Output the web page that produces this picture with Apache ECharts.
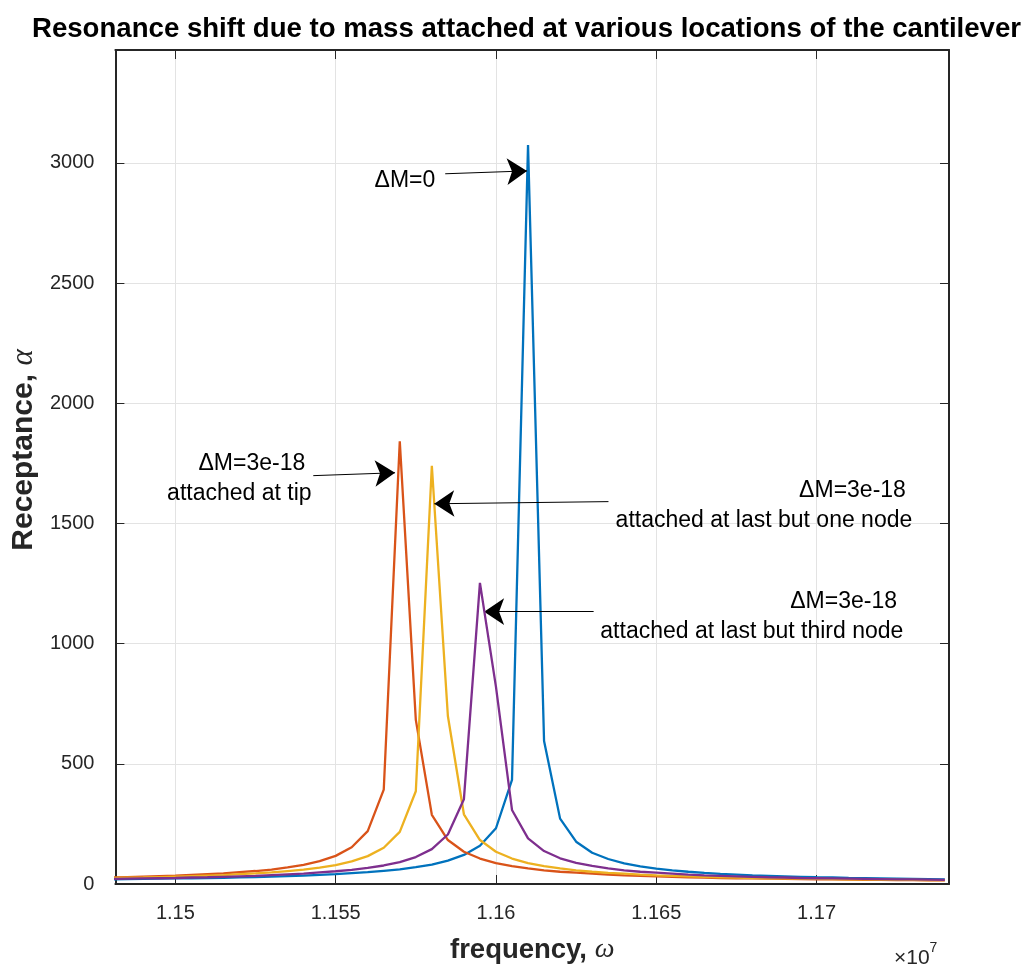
<!DOCTYPE html>
<html>
<head>
<meta charset="utf-8">
<script src="https://cdn.jsdelivr.net/npm/echarts@6/dist/echarts.min.js"></script>
<style>
html,body{margin:0;padding:0;background:#fff;}
#chart{width:1027px;height:969px;}
</style>
</head>
<body>
<div id="chart"></div>
<script>
// frequency (x 1e7)
const freq = [1.1480,1.1485,1.1490,1.1495,1.1500,1.1505,1.1510,1.1515,1.1520,1.1525,
  1.1530,1.1535,1.1540,1.1545,1.1550,1.1555,1.1560,1.1565,1.1570,1.1575,
  1.1580,1.1585,1.1590,1.1595,1.1600,1.1605,1.1610,1.1615,1.1620,1.1625,
  1.1630,1.1635,1.1640,1.1645,1.1650,1.1655,1.1660,1.1665,1.1670,1.1675,
  1.1680,1.1685,1.1690,1.1695,1.1700,1.1705,1.1710,1.1715,1.1720,1.1725,
  1.1730,1.1735,1.1740];

// receptance, no added mass
const alphaNoMass = [19,20,21,22,23,24,25,26,28,29,
  31,33,35,38,41,45,49,55,61,70,
  81,97,121,159,232,433,3075,595,272,176,
  130,104,86,73,64,57,51,46,42,39,
  36,34,32,30,28,27,25,24,23,22,
  21,20,19];
// mass attached at tip
const alphaTip = [27,29,31,33,35,38,41,44,49,54,
  60,69,80,95,117,153,220,393,1842,683,
  288,183,134,106,87,74,65,57,51,47,
  43,39,36,34,32,30,28,27,25,24,
  23,22,21,20,19,19,18,17,17,16,
  16,15,15];
// mass attached at last but one node
const alphaLastButOne = [25,26,27,29,31,33,35,37,41,44,
  48,54,60,68,79,94,116,151,217,386,
  1740,699,290,183,134,106,87,74,65,57,
  51,46,43,39,36,34,32,30,28,27,
  25,24,23,22,21,20,19,19,18,17,
  17,16,16];
// mass attached at last but third node
const alphaLastButThird = [21,22,23,24,25,27,28,30,32,34,
  37,40,43,48,53,59,67,77,91,112,
  145,206,353,1253,820,308,190,137,107,88,
  75,65,57,51,47,43,39,36,34,32,
  30,28,27,25,24,23,22,21,20,19,
  19,18,17];

const seriesNames = ['\u0394M=0','\u0394M=3e-18 tip','\u0394M=3e-18 last but one node','\u0394M=3e-18 last but third node'];
const xTickLabels = [1.15,1.155,1.16,1.165,1.17];
const yTickLabels = [0,500,1000,1500,2000,2500,3000];

// annotations: arrow tail, arrow tip, text anchor (right edge, middle), text
const annoText = ['\u0394M=0', '\u0394M=3e-18 \nattached at tip', '\u0394M=3e-18 \nattached at last but one node', '\u0394M=3e-18 \nattached at last but third node'];
const annoTail = [[1.158417,2955],[1.154302,1699],[1.163509,1591],[1.163046,1133]];
const annoTip  = [[1.160969,2967],[1.156852,1711],[1.158077,1582],[1.159630,1133]];
const annoTextAt = [[1.158108,2925],[1.154250,1686],[1.172985,1573],[1.172707,1113]];

const FONT = "'Liberation Sans', Arial, Helvetica, sans-serif";
const SERIF = "'Liberation Serif', 'DejaVu Serif', serif";
const AX = '#262626';
const colors = ['#0072BD','#D95319','#EDB120','#7E2F8E'];
const allSeries = [alphaNoMass, alphaTip, alphaLastButOne, alphaLastButThird];

const chart = echarts.init(document.getElementById('chart'), null, {renderer:'canvas'});

function xFmt(v){
  for (const t of xTickLabels) if (Math.abs(v - t) < 1e-7) return String(t);
  return '';
}
function yFmt(v){
  for (const t of yTickLabels) if (Math.abs(v - t) < 1e-6) return String(t);
  return '';
}

const series = allSeries.map((vals, i) => ({
  name: seriesNames[i],
  type: 'line',
  xAxisIndex: 0, yAxisIndex: 0,
  data: vals.map((v, k) => [freq[k], v]),
  showSymbol: false,
  symbol: 'none',
  smooth: false,
  clip: true,
  lineStyle: {color: colors[i], width: 2.3},
  itemStyle: {color: colors[i]},
  z: 2 + i
}));

series.push({
  name: 'annotations',
  type: 'line',
  xAxisIndex: 0, yAxisIndex: 0,
  data: [],
  z: 10,
  markLine: {
    silent: true,
    animation: false,
    symbol: ['none', 'arrow'],
    symbolSize: 20,
    lineStyle: {color: '#000', width: 1, type: 'solid'},
    label: {show: false},
    emphasis: {disabled: true},
    data: annoTail.map((t, i) => [{coord: t}, {coord: annoTip[i]}])
  },
  markPoint: {
    silent: true,
    animation: false,
    symbol: 'circle',
    symbolSize: 0,
    itemStyle: {color: 'rgba(0,0,0,0)'},
    label: {
      show: true,
      position: 'left',
      distance: 0,
      color: '#000',
      fontSize: 23,
      lineHeight: 30,
      fontFamily: FONT
    },
    data: annoTextAt.map((p, i) => ({coord: p, value: 0, label: {formatter: annoText[i]}}))
  }
});

const option = {
  animation: false,
  backgroundColor: '#fff',
  title: [{
    text: 'Resonance shift due to mass attached at various locations of the cantilever',
    left: 32,
    top: 15,
    padding: 0,
    textStyle: {fontSize: 27.6, fontWeight: 'bold', color: '#000', fontFamily: FONT}
  }, {
    text: '{a|\u00d710}{s|7}',
    left: 894,
    top: 941,
    padding: 0,
    textStyle: {
      fontWeight: 'normal',
      rich: {
        a: {fontSize: 21, fontWeight: 'normal', color: AX, fontFamily: FONT, lineHeight: 28, verticalAlign: 'bottom'},
        s: {fontSize: 14, fontWeight: 'normal', color: AX, fontFamily: FONT, lineHeight: 28, verticalAlign: 'top'}
      }
    }
  }],
  grid: {left: 107, right: 78, top: 50, bottom: 77, containLabel: false},
  xAxis: [{
    type: 'value',
    position: 'bottom',
    min: 1.14813,
    max: 1.17413,
    name: '{b|frequency, }{i|\u03c9}',
    nameLocation: 'middle',
    nameGap: 52,
    nameTextStyle: {
      rich: {
        b: {fontSize: 27.5, fontWeight: 'bold', color: AX, fontFamily: FONT},
        i: {fontSize: 28, fontStyle: 'italic', color: AX, fontFamily: SERIF}
      }
    },
    axisLine: {show: true, onZero: false, lineStyle: {color: AX, width: 2}},
    axisTick: {show: true, inside: true, length: 9, lineStyle: {color: AX, width: 1}},
    axisLabel: {formatter: xFmt, fontSize: 20, color: AX, fontFamily: FONT, margin: 19},
    splitLine: {show: true, lineStyle: {color: '#e3e3e3', width: 1}}
  }, {
    type: 'value',
    position: 'top',
    min: 1.14813,
    max: 1.17413,
    axisLine: {show: true, onZero: false, lineStyle: {color: AX, width: 2}},
    axisTick: {show: true, inside: true, length: 9, lineStyle: {color: AX, width: 1}},
    axisLabel: {show: false},
    splitLine: {show: false}
  }],
  yAxis: [{
    type: 'value',
    position: 'left',
    min: 0,
    max: 3470,
    interval: 500,
    name: '{b|Receptance, }{i|\u03b1}',
    nameLocation: 'middle',
    nameRotate: 90,
    nameGap: 70,
    nameTextStyle: {
      padding: [0, 0, 0, 34],
      rich: {
        b: {fontSize: 30, fontWeight: 'bold', color: AX, fontFamily: FONT},
        i: {fontSize: 31, fontStyle: 'italic', color: AX, fontFamily: SERIF}
      }
    },
    axisLine: {show: true, onZero: false, lineStyle: {color: AX, width: 2}},
    axisTick: {show: true, inside: true, length: 9, lineStyle: {color: AX, width: 1}},
    axisLabel: {formatter: yFmt, fontSize: 20, color: AX, fontFamily: FONT, margin: 21},
    splitLine: {show: true, lineStyle: {color: '#e3e3e3', width: 1}}
  }, {
    type: 'value',
    position: 'right',
    min: 0,
    max: 3470,
    interval: 500,
    axisLine: {show: true, onZero: false, lineStyle: {color: AX, width: 2}},
    axisTick: {show: true, inside: true, length: 9, lineStyle: {color: AX, width: 1}},
    axisLabel: {show: false},
    splitLine: {show: false}
  }],
  series: series
};

chart.setOption(option);
</script>
</body>
</html>
